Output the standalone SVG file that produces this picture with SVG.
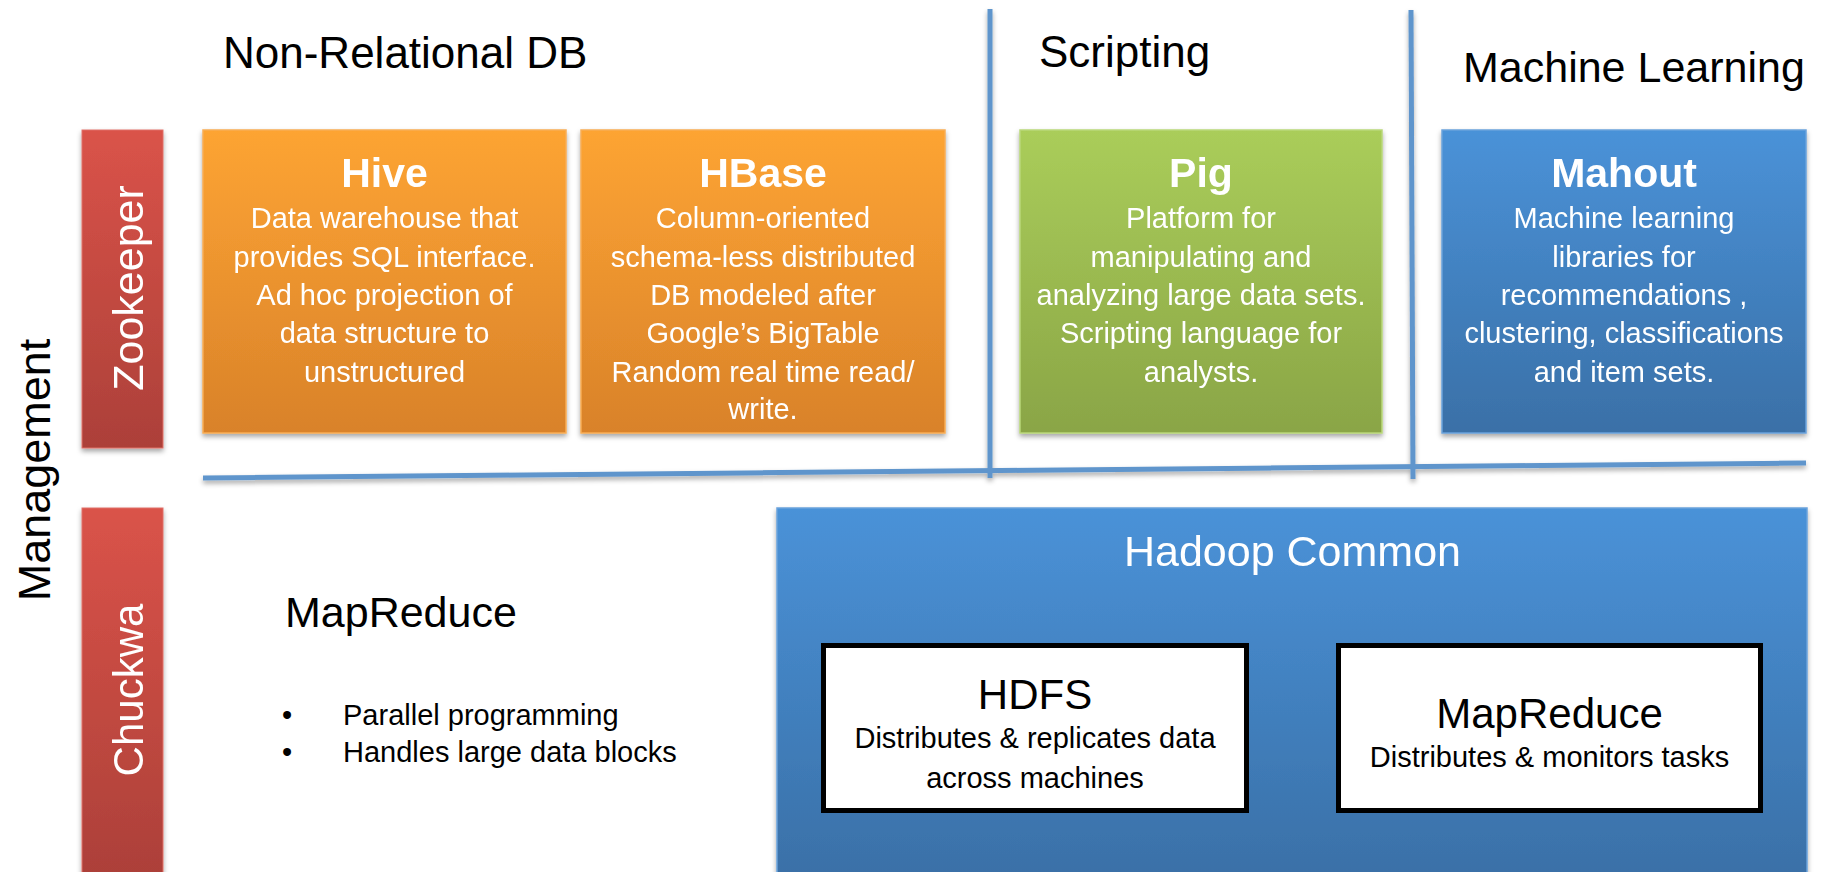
<svg xmlns="http://www.w3.org/2000/svg" width="1839" height="872" viewBox="0 0 1839 872">
<defs>
<linearGradient id="gOrange" x1="0" y1="0" x2="0" y2="1"><stop offset="0" stop-color="#fda433"/><stop offset="1" stop-color="#d9822a"/></linearGradient>
<linearGradient id="gRed" x1="0" y1="0" x2="0" y2="1"><stop offset="0" stop-color="#da5349"/><stop offset="1" stop-color="#ac4039"/></linearGradient>
<linearGradient id="gGreen" x1="0" y1="0" x2="0" y2="1"><stop offset="0" stop-color="#aacd5a"/><stop offset="1" stop-color="#8aa546"/></linearGradient>
<linearGradient id="gBlue" x1="0" y1="0" x2="0" y2="1"><stop offset="0" stop-color="#4a92d8"/><stop offset="1" stop-color="#3a70a7"/></linearGradient>
<filter id="shadow" x="-10%" y="-10%" width="120%" height="125%"><feDropShadow dx="0" dy="3" stdDeviation="2.5" flood-color="#000" flood-opacity="0.35"/></filter>
</defs>
<style>
text{font-family:"Liberation Sans",Arial,sans-serif}
.head{font-size:44px;fill:#000}
.ttl{font-size:41px;font-weight:bold;fill:#fff;text-anchor:middle}
.body{font-size:29px;fill:#fff;text-anchor:middle}
.bodyk{font-size:29px;fill:#000}
.side{font-size:43px;fill:#fff;text-anchor:middle}
.line{stroke:#5f95cc;stroke-width:5;fill:none}
.box{filter:url(#shadow)}
</style>
<rect width="1839" height="872" fill="#fff"/>

<g id="headings">
<text class="head" x="223" y="68">Non-Relational DB</text>
<text class="head" x="1039" y="67">Scripting</text>
<text class="head" style="font-size:43px" x="1463" y="82">Machine Learning</text>
<text class="head" style="font-size:45px" transform="translate(50,470) rotate(-90)" text-anchor="middle">Management</text>
</g>

<g id="connectors" filter="url(#shadow)">
<line class="line" x1="990" y1="9" x2="990" y2="478"/>
<line class="line" x1="1411" y1="10" x2="1413" y2="479"/>
<line class="line" x1="203" y1="478" x2="1806" y2="463"/>
</g>

<g id="zookeeper" class="box">
<rect x="82" y="130" width="81" height="318" fill="url(#gRed)" stroke="#e07068" stroke-width="1"/>
<text class="side" transform="translate(143,288) rotate(-90)">Zookeeper</text>
</g>

<g id="chuckwa" class="box">
<rect x="82" y="508" width="81" height="370" fill="url(#gRed)" stroke="#e07068" stroke-width="1"/>
<text class="side" style="font-size:42px" transform="translate(143,690) rotate(-90)">Chuckwa</text>
</g>

<g id="hive" class="box">
<rect x="203" y="130" width="363" height="303" fill="url(#gOrange)" stroke="#f8ad55" stroke-width="1.5"/>
<text class="ttl" x="384.5" y="187">Hive</text>
<text class="body" x="384.5" y="228">Data warehouse that</text>
<text class="body" x="384.5" y="267">provides SQL interface.</text>
<text class="body" x="384.5" y="305">Ad hoc projection of</text>
<text class="body" x="384.5" y="343">data structure to</text>
<text class="body" x="384.5" y="382">unstructured</text>
</g>

<g id="hbase" class="box">
<rect x="581" y="130" width="364" height="303" fill="url(#gOrange)" stroke="#f8ad55" stroke-width="1.5"/>
<text class="ttl" x="763" y="187">HBase</text>
<text class="body" x="763" y="228">Column-oriented</text>
<text class="body" x="763" y="267">schema-less distributed</text>
<text class="body" x="763" y="305">DB modeled after</text>
<text class="body" x="763" y="343">Google’s BigTable</text>
<text class="body" x="763" y="382">Random real time read/</text>
<text class="body" x="763" y="419">write.</text>
</g>

<g id="pig" class="box">
<rect x="1020" y="130" width="362" height="303" fill="url(#gGreen)" stroke="#b9d77a" stroke-width="1.5"/>
<text class="ttl" x="1201" y="187">Pig</text>
<text class="body" x="1201" y="228">Platform for</text>
<text class="body" x="1201" y="267">manipulating and</text>
<text class="body" x="1201" y="305">analyzing large data sets.</text>
<text class="body" x="1201" y="343">Scripting language for</text>
<text class="body" x="1201" y="382">analysts.</text>
</g>

<g id="mahout" class="box">
<rect x="1442" y="130" width="364" height="303" fill="url(#gBlue)" stroke="#6aa2dc" stroke-width="1.5"/>
<text class="ttl" x="1624" y="187">Mahout</text>
<text class="body" x="1624" y="228">Machine learning</text>
<text class="body" x="1624" y="267">libraries for</text>
<text class="body" x="1624" y="305">recommendations ,</text>
<text class="body" x="1624" y="343">clustering, classifications</text>
<text class="body" x="1624" y="382">and item sets.</text>
</g>

<g id="mapreduce-info">
<text class="head" style="font-size:43px" x="285" y="627">MapReduce</text>
<text class="bodyk" x="282" y="725">•</text>
<text class="bodyk" x="343" y="725">Parallel programming</text>
<text class="bodyk" x="282" y="762">•</text>
<text class="bodyk" x="343" y="762">Handles large data blocks</text>
</g>

<g id="hadoop-common" class="box">
<rect x="777" y="508" width="1030" height="370" fill="url(#gBlue)" stroke="#6aa2dc" stroke-width="1.5"/>
<text x="1292.5" y="566" style="font-size:43px;fill:#fff;text-anchor:middle">Hadoop Common</text>
</g>

<g id="hdfs">
<rect x="823.5" y="645.5" width="423" height="165" fill="#fff" stroke="#000" stroke-width="5"/>
<text x="1035" y="709" style="font-size:42px;fill:#000;text-anchor:middle">HDFS</text>
<text x="1035" y="748" style="font-size:29px;fill:#000;text-anchor:middle">Distributes &amp; replicates data</text>
<text x="1035" y="788" style="font-size:29px;fill:#000;text-anchor:middle">across machines</text>
</g>

<g id="mapreduce">
<rect x="1338.5" y="645.5" width="422" height="165" fill="#fff" stroke="#000" stroke-width="5"/>
<text x="1549.5" y="728" style="font-size:42px;fill:#000;text-anchor:middle">MapReduce</text>
<text x="1549.5" y="767" style="font-size:29px;fill:#000;text-anchor:middle">Distributes &amp; monitors tasks</text>
</g>
</svg>
